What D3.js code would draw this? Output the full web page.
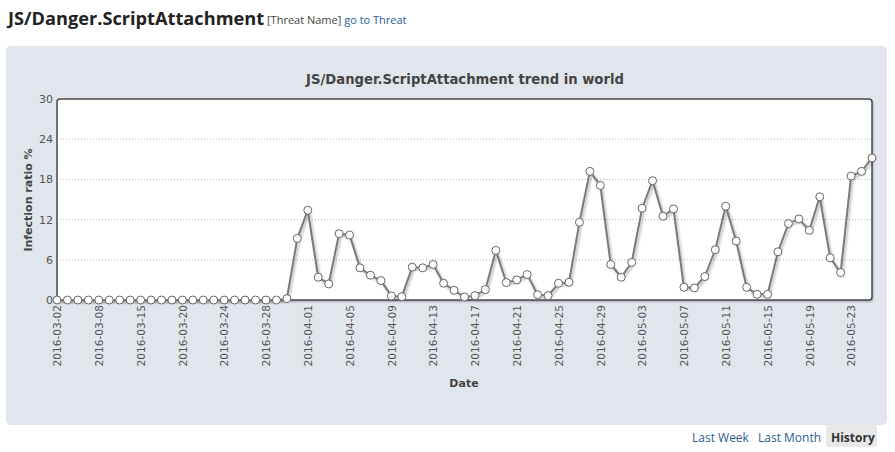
<!DOCTYPE html>
<html><head><meta charset="utf-8">
<script src="https://cdn.jsdelivr.net/npm/d3@7"></script>
<style>
body{margin:0;background:#fff;}
svg{display:block;}
</style></head>
<body><svg id="c" width="895" height="452"></svg>
<script>
const dates = [
"2016-03-02","2016-03-03","2016-03-04","2016-03-07","2016-03-08","2016-03-09","2016-03-10","2016-03-14",
"2016-03-15","2016-03-16","2016-03-17","2016-03-18","2016-03-20","2016-03-21","2016-03-22","2016-03-23",
"2016-03-24","2016-03-25","2016-03-26","2016-03-27","2016-03-28","2016-03-29","2016-03-30","2016-03-31",
"2016-04-01","2016-04-02","2016-04-03","2016-04-04","2016-04-05","2016-04-06","2016-04-07","2016-04-08",
"2016-04-09","2016-04-10","2016-04-11","2016-04-12","2016-04-13","2016-04-14","2016-04-15","2016-04-16",
"2016-04-17","2016-04-18","2016-04-19","2016-04-20","2016-04-21","2016-04-22","2016-04-23","2016-04-24",
"2016-04-25","2016-04-26","2016-04-27","2016-04-28","2016-04-29","2016-04-30","2016-05-01","2016-05-02",
"2016-05-03","2016-05-04","2016-05-05","2016-05-06","2016-05-07","2016-05-08","2016-05-09","2016-05-10",
"2016-05-11","2016-05-12","2016-05-13","2016-05-14","2016-05-15","2016-05-16","2016-05-17","2016-05-18",
"2016-05-19","2016-05-20","2016-05-21","2016-05-22","2016-05-23","2016-05-24","2016-05-25"];
const values = [
0,0,0,0,0,0,0,0,0,0,0,0,0,0,0,0,0,0,0,0,0,0,0.2,9.2,
13.4,3.4,2.4,9.9,9.7,4.8,3.7,2.9,0.6,0.5,4.9,4.8,5.3,2.5,1.45,0.45,
0.65,1.55,7.4,2.6,3.0,3.8,0.8,0.65,2.5,2.65,11.6,19.2,17.1,5.3,3.4,5.6,
13.7,17.8,12.5,13.6,1.9,1.8,3.5,7.5,14.0,8.8,1.9,0.85,0.85,7.2,
11.4,12.1,10.4,15.4,6.3,4.1,18.5,19.2,21.2];
const tickLabels = ["2016-03-02","2016-03-08","2016-03-15","2016-03-20","2016-03-24","2016-03-28",
"2016-04-01","2016-04-05","2016-04-09","2016-04-13","2016-04-17","2016-04-21","2016-04-25","2016-04-29",
"2016-05-03","2016-05-07","2016-05-11","2016-05-15","2016-05-19","2016-05-23"];
const yTicks = [0,6,12,18,24,30];

const svg = d3.select("#c");
const font = "'DejaVu Sans', Verdana, sans-serif";

// Header
svg.append("text").attr("x",8).attr("y",25).text("JS/Danger.ScriptAttachment")
  .attr("font-family","'Open Sans', 'Segoe UI', sans-serif").attr("font-weight","bold")
  .attr("font-size",18.2).attr("fill","#222");
const sub = svg.append("text").attr("x",267).attr("y",24);
sub.append("tspan").text("[Threat Name] ").attr("font-family","'Open Sans', sans-serif")
  .attr("font-size",11).attr("fill","#444");
sub.append("tspan").text("go to Threat").attr("font-family","'Open Sans', sans-serif")
  .attr("font-size",11).attr("fill","#2a5d8f");

// filters
const defs = svg.append("defs");
const f = defs.append("filter").attr("id","sh").attr("x","-5%").attr("y","-5%").attr("width","110%").attr("height","120%");
f.append("feDropShadow").attr("dx",1).attr("dy",1.5).attr("stdDeviation",1.2).attr("flood-color","#000").attr("flood-opacity",0.35);
const f2 = defs.append("filter").attr("id","lsh").attr("x","-5%").attr("y","-10%").attr("width","110%").attr("height","130%");
f2.append("feDropShadow").attr("dx",1.5).attr("dy",2).attr("stdDeviation",1.3).attr("flood-color","#000").attr("flood-opacity",0.3);

svg.append("rect").attr("x",6).attr("y",46).attr("width",881).attr("height",379).attr("rx",5)
  .attr("fill","#e1e5ec");

const m = {l:57,r:872,t:99,b:300};
const x = d3.scalePoint().domain(dates).range([m.l,m.r]);
const y = d3.scaleLinear().domain([0,30]).range([m.b,m.t]);

svg.append("text").attr("x",465).attr("y",84).attr("text-anchor","middle")
  .attr("font-family",font).attr("font-weight","bold").attr("font-size",13.2).attr("fill","#444")
  .text("JS/Danger.ScriptAttachment trend in world");

// plot bg
svg.append("rect").attr("x",m.l).attr("y",m.t).attr("width",m.r-m.l).attr("height",m.b-m.t)
  .attr("rx",3).attr("fill","#fff").attr("filter","url(#sh)");

// grid
svg.append("g").selectAll("line").data(yTicks.filter(d=>d>0&&d<30)).join("line")
  .attr("x1",m.l).attr("x2",m.r).attr("y1",d=>y(d)).attr("y2",d=>y(d))
  .attr("stroke","#bbb").attr("stroke-dasharray","1,2");

// border
svg.append("rect").attr("x",m.l).attr("y",m.t).attr("width",m.r-m.l).attr("height",m.b-m.t)
  .attr("rx",3).attr("fill","none").attr("stroke","#4a4a4a").attr("stroke-width",1.5);

// y axis
const ya = svg.append("g").attr("transform",`translate(${m.l},0)`)
  .call(d3.axisLeft(y).tickValues(yTicks).tickSize(0).tickPadding(4));
ya.select(".domain").remove();
ya.selectAll("text").attr("font-family",font).attr("font-size",11).attr("fill","#555");

// x axis
const xa = svg.append("g").attr("transform",`translate(0,${m.b})`)
  .call(d3.axisBottom(x).tickValues(tickLabels).tickSize(0));
xa.select(".domain").remove();
xa.selectAll("text").attr("font-family",font).attr("font-size",10.6).attr("fill","#555")
  .attr("transform","rotate(-90)").attr("text-anchor","end").attr("x",-5).attr("y",0).attr("dy","0.35em");

// axis titles
svg.append("text").attr("transform","translate(32,200) rotate(-90)").attr("text-anchor","middle")
  .attr("font-family",font).attr("font-weight","bold").attr("font-size",11).attr("fill","#444")
  .text("Infection ratio %");
svg.append("text").attr("x",464).attr("y",387).attr("text-anchor","middle")
  .attr("font-family",font).attr("font-weight","bold").attr("font-size",11).attr("fill","#444")
  .text("Date");

// line
const line = d3.line().x((d,i)=>x(dates[i])).y(d=>y(d));
svg.append("path").datum(values).attr("d",line).attr("fill","none")
  .attr("stroke","#7a7a7a").attr("stroke-width",2).attr("filter","url(#lsh)");
svg.append("g").selectAll("circle").data(values).join("circle")
  .attr("cx",(d,i)=>x(dates[i])).attr("cy",d=>y(d)).attr("r",4)
  .attr("fill","#fff").attr("stroke","#666").attr("stroke-width",1);

// buttons
svg.append("rect").attr("x",826).attr("y",425).attr("width",51).attr("height",22).attr("fill","#e8e8e8").attr("rx",2);
const bt = [["Last Week",692,"normal","#2a5d8f"],["Last Month",758,"normal","#2a5d8f"],["History",831,"bold","#333"]];
svg.append("g").selectAll("text").data(bt).join("text")
  .attr("x",d=>d[1]).attr("y",442).attr("font-family","'Open Sans', sans-serif").attr("font-size",12)
  .attr("font-weight",d=>d[2]).attr("fill",d=>d[3]).text(d=>d[0]);
</script></body></html>
